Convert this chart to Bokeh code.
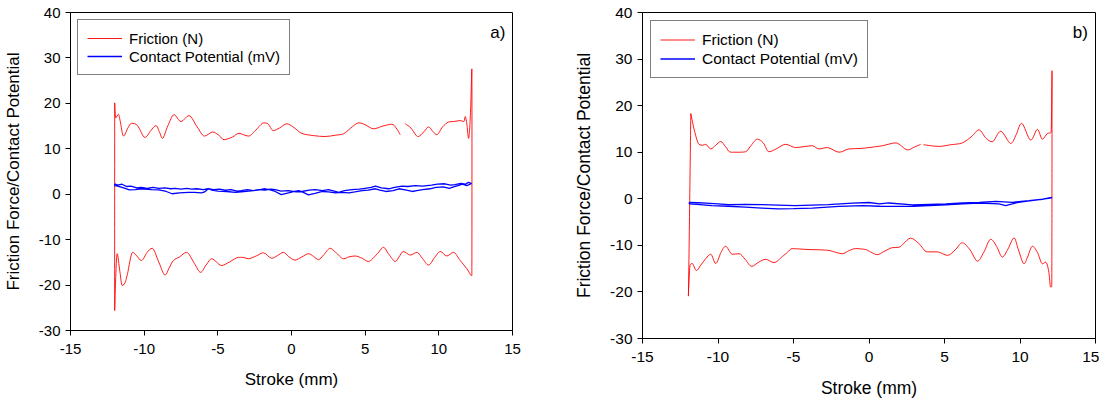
import numpy as np
from bokeh.plotting import figure
from bokeh.layouts import row
from bokeh.models import FixedTicker, Legend, LegendItem, Label, Range1d
from bokeh.embed import file_html
from bokeh.resources import INLINE

nan = float("nan")

# ---------------- axis ticks ----------------
x_ticks = [-15, -10, -5, 0, 5, 10, 15]
x_tick_labels = ["-15", "-10", "-5", "0", "5", "10", "15"]
y_ticks = [-30, -20, -10, 0, 10, 20, 30, 40]
y_tick_labels = ["-30", "-20", "-10", "0", "10", "20", "30", "40"]

# ---------------- panel a) ----------------
# friction, forward stroke (upper branch, left -> right)
a_fric_up_x = [-12.0, -11.93, -11.75, -11.62, -11.4, -11.1, -10.85, -10.45, -9.95, -9.55, -9.2, -8.95, -8.75, -8.4,
               -7.97, -7.5, -6.96, -6.4, -5.9, -5.35, -4.9, -4.58, -4.0, -3.56, -2.93, -2.4, -1.9, -1.6, -1.24, -0.8,
               -0.32, 0.2, 0.69, 1.5, 2.28, 3.0, 3.53, 4.0, 4.55, 5.0, 5.57, 6.2, 6.8, 7.1, 7.38, nan, 7.72, 8.1,
               8.45, 8.62, 9.0, 9.3, 9.6, 9.87, 10.25, 10.66, 11.0, 11.45, 11.7, 11.79, 11.9, 12.02, 12.15, 12.24]
a_fric_up_y = [20.1, 16.8, 17.6, 16.0, 12.8, 14.6, 15.6, 15.1, 12.5, 14.0, 15.1, 13.6, 12.3, 15.0,
               17.5, 16.0, 17.3, 14.8, 12.8, 13.7, 12.9, 12.0, 12.6, 13.4, 12.8, 14.2, 15.7, 15.5, 14.0, 14.6,
               15.5, 14.6, 13.4, 12.9, 12.7, 13.0, 13.3, 14.5, 15.7, 15.3, 14.4, 15.0, 15.4, 14.6, 13.1, nan, 15.5, 14.6,
               13.0, 12.7, 13.8, 14.8, 13.8, 13.1, 14.8, 15.9, 16.0, 16.2, 16.0, 17.1, 15.5, 12.3, 18.0, 27.6]
# friction, return stroke (lower branch, right -> left)
a_fric_lo_x = [12.24, 12.2, 12.07, 11.9, 11.45, 11.0, 10.54, 10.1, 9.7, 9.3, 8.9, 8.51, 8.06, 7.6, 7.3, 7.04, 6.6,
               6.24, 5.8, 5.22, 4.8, 4.32, 3.9, 3.53, 3.0, 2.62, 2.2, 1.83, 1.5, 1.15, 0.7, 0.24, -0.2, -0.55, -0.95,
               -1.35, -1.91, -2.4, -2.93, -3.3, -3.61, -4.2, -4.74, -5.1, -5.42, -5.8, -6.17, -6.6, -7.12, -7.6,
               -8.02, -8.3, -8.59, -9.0, -9.45, -9.8, -10.18, -10.5, -10.79, -11.13, -11.3, -11.49, -11.65, -11.83,
               -11.95, -12.0]
a_fric_lo_y = [-17.9, -17.9, -17.3, -16.4, -14.6, -12.8, -13.6, -12.6, -14.0, -15.6, -14.2, -12.8, -13.4, -12.6, -13.8,
               -14.8, -13.2, -11.7, -13.2, -14.8, -14.1, -13.6, -13.8, -14.2, -12.8, -11.9, -13.3, -14.4, -13.7, -13.1,
               -13.8, -14.5, -13.7, -12.8, -13.5, -14.1, -12.9, -13.6, -14.2, -13.9, -13.9, -14.9, -15.7, -14.9, -14.2,
               -15.6, -17.2, -15.2, -12.8, -13.8, -14.6, -16.2, -17.8, -15.0, -11.9, -12.8, -14.6, -13.6, -12.8, -17.5,
               -19.5, -20.1, -17.0, -13.1, -20.0, -25.6]
# contact potential, forward and return
a_cp_fw_x = [-12.0, -11.8, -11.5, -11.2, -10.9, -10.5, -10.2, -9.8, -9.4, -9.0, -8.6, -8.2, -7.9, -7.5, -7.1, -6.8,
             -6.4, -6.0, -5.65, -5.3, -4.9, -4.5, -4.1, -3.7, -3.4, -3.0, -2.6, -2.25, -1.8, -1.4, -1.1, -0.7, -0.2,
             0.3, 0.7, 1.2, 1.6, 2.1, 2.5, 2.9, 3.2, 3.6, 4.1, 4.6, 5.0, 5.4, 5.7, 6.1, 6.6, 7.0, 7.5, 7.9, 8.4, 8.9,
             9.5, 9.9, 10.4, 10.8, 11.1, 11.5, 11.8, 12.0, 12.2]
a_cp_fw_y = [2.3, 2.0, 2.2, 1.7, 1.8, 1.4, 1.5, 1.3, 1.5, 1.3, 1.4, 1.2, 1.3, 1.1, 1.3, 1.1,
             1.2, 1.0, 1.2, 1.0, 1.1, 0.9, 1.0, 0.7, 0.8, 1.0, 0.8, 1.0, 0.9, 1.1, 1.0, 0.7, 0.8,
             0.5, 0.6, 0.9, 1.0, 0.8, 1.0, 0.7, 0.4, 0.8, 1.0, 1.1, 1.3, 1.5, 1.8, 1.4, 1.2, 1.5, 1.8, 1.7, 1.9, 1.8,
             2.0, 2.2, 2.3, 2.0, 2.1, 2.4, 2.2, 2.6, 2.4]
a_cp_bw_x = [12.2, 11.9, 11.6, 11.3, 11.0, 10.7, 10.3, 9.8, 9.4, 8.9, 8.5, 8.2, 7.8, 7.3, 6.9, 6.4, 6.0, 5.7, 5.2,
             4.8, 4.3, 3.9, 3.4, 3.0, 2.5, 2.1, 1.6, 1.15, 0.8, 0.5, 0.2, -0.2, -0.7, -1.1, -1.5, -1.8, -2.3, -2.9,
             -3.4, -3.8, -4.4, -5.0, -5.4, -5.65, -5.9, -6.1, -6.6, -7.0, -7.6, -8.1, -8.5, -9.0, -9.5, -10.2, -10.6,
             -11.0, -11.5, -11.8, -12.0]
a_cp_bw_y = [2.3, 1.9, 2.2, 1.9, 1.6, 1.3, 1.6, 1.5, 1.2, 1.0, 0.8, 0.6, 0.9, 1.2, 0.8, 0.6, 0.9, 1.2, 0.9,
             0.8, 0.5, 0.3, 0.4, 0.3, 0.5, 0.6, 0.2, -0.15, 0.4, 0.8, 0.6, 0.3, -0.1, 0.6, 1.0, 1.2, 0.9, 0.7,
             0.5, 0.4, 0.6, 0.7, 0.9, 1.2, 0.5, 0.3, 0.4, 0.4, 0.3, 0.1, 0.6, 0.95, 1.0, 1.2, 1.0,
             0.95, 1.5, 1.8, 1.9]

# ---------------- panel b) ----------------
b_fric_up_x = [-11.8, -11.55, -11.26, -11.0, -10.81, -10.48, -10.15, -9.82, -9.5, -9.16, -8.6, -8.17, -7.8, -7.4,
               -7.0, -6.62, -6.1, -5.52, -4.86, -4.3, -3.76, -3.31, -2.76, -1.99, -1.33, -0.6, 0.0, 0.9, 1.77, 2.54,
               3.0, 3.42, nan, 3.6, 4.64, 5.4, 6.18, 6.8, 7.28, 7.75, 8.17, 8.72, 9.38, 9.75, 10.11, 10.71, 11.15,
               11.48, 11.81, 12.03, 12.08, 12.12]
b_fric_up_y = [18.3, 14.5, 11.7, 11.5, 11.7, 10.7, 11.5, 12.3, 11.2, 10.0, 10.0, 10.1, 11.5, 12.8,
               12.0, 10.1, 10.8, 11.7, 11.0, 11.2, 11.4, 10.7, 11.0, 10.0, 10.7, 10.8, 11.0, 11.4, 12.0, 10.5,
               11.1, 11.7, nan, 11.6, 11.25, 11.6, 12.0, 13.4, 14.8, 13.0, 12.25, 14.5, 11.9, 13.8, 16.2, 12.6, 14.9,
               12.8, 14.0, 14.2, 16.3, 27.5]
b_fric_lo_x = [12.1, 12.02, 11.9, 11.7, 11.48, 11.15, 10.82, 10.5, 10.26, 9.9, 9.6, 9.2, 8.83, 8.45, 8.06, 7.6, 7.18,
               6.7, 6.18, 5.7, 5.19, 4.52, 3.86, 3.3, 2.76, 2.3, 1.99, 1.54, 1.0, 0.55, 0.1, -0.22, -0.88, -1.3, -1.77,
               -2.2, -2.65, -3.3, -3.97, -4.5, -5.08, -5.4, -5.74, -6.29, -6.84, -7.3, -7.77, -8.2, -8.6, -9.05, -9.49,
               -9.8, -10.15, -10.48, -10.8, -11.15, -11.43, -11.7, -11.85, -11.96]
b_fric_lo_y = [-18.9, -18.9, -15.5, -13.6, -13.95, -11.5, -10.2, -12.5, -13.95, -11.0, -8.4, -10.8, -12.5, -10.2, -8.7,
               -11.5, -13.4, -11.0, -9.45, -11.0, -12.15, -11.4, -11.4, -9.6, -8.45, -9.6, -10.4, -10.5, -11.3, -12.0,
               -11.4, -10.9, -10.7, -11.1, -11.8, -11.5, -11.1, -10.95, -10.9, -10.8, -10.7, -11.5, -12.4, -13.7, -13.0,
               -13.6, -14.5, -13.0, -11.8, -11.9, -10.2, -11.5, -13.9, -11.9, -12.8, -14.3, -15.4, -13.9, -14.3, -20.9]
b_cp_fw_x = [-11.9, -11.3, -10.8, -10.0, -9.3, -8.2, -7.1, -6.0, -4.9, -3.8, -2.7, -1.1, 0.0, 0.7, 1.3, 2.9, 4.0,
             5.1, 6.2, 7.3, 8.4, 9.5, 10.6, 11.5, 12.1]
b_cp_fw_y = [-0.75, -0.85, -0.95, -1.1, -1.25, -1.2, -1.25, -1.35, -1.45, -1.35, -1.25, -0.95, -0.8, -1.1, -0.9, -1.3,
             -1.2, -1.1, -0.9, -0.75, -0.55, -0.75, -0.4, -0.1, 0.3]
b_cp_bw_x = [12.1, 11.3, 10.5, 9.9, 9.05, 8.6, 7.3, 6.2, 5.1, 4.0, 2.9, 1.3, 0.7, -0.4, -2.0, -3.75, -5.0, -6.0, -7.1,
             -8.2, -9.3, -10.4, -11.4, -11.9]
b_cp_bw_y = [0.2, -0.2, -0.5, -0.75, -1.45, -1.1, -0.9, -1.1, -1.3, -1.45, -1.6, -1.65, -1.6, -1.45, -1.65, -2.0, -2.1,
             -2.15, -2.0, -1.8, -1.6, -1.45, -1.2, -1.1]

series_labels = ["Friction (N)", "Contact Potential (mV)"]
FONT = "Liberation Sans"
RED = "#ff0000"
BLUE = "#0000ff"


def loop(ux, uy, lx, ly):
    x = np.array(ux + lx + [ux[0]], dtype=float)
    y = np.array(uy + ly + [uy[0]], dtype=float)
    return x, y


def smooth_segments(x, y):
    """Cubic Bezier segments through the read points (horizontal tangents at local extremes)."""
    n = len(x)
    tx = np.zeros(n)
    ty = np.zeros(n)
    for i in range(n):
        if np.isnan(x[i]):
            continue
        ip = i - 1 if i > 0 and not np.isnan(x[i - 1]) else i
        inx = i + 1 if i < n - 1 and not np.isnan(x[i + 1]) else i
        tx[i] = (x[inx] - x[ip]) / 2.0
        ty[i] = (y[inx] - y[ip]) / 2.0
        if ip != i and inx != i:
            if (y[i] - y[ip]) * (y[inx] - y[i]) <= 0:
                ty[i] = 0.0
            else:
                lim = 3.0 * min(abs(y[i] - y[ip]), abs(y[inx] - y[i]))
                ty[i] = np.sign(ty[i]) * min(abs(ty[i]), lim)
    segs = {k: [] for k in ("x0", "y0", "x1", "y1", "cx0", "cy0", "cx1", "cy1")}
    for i in range(n - 1):
        if np.isnan(x[i]) or np.isnan(x[i + 1]):
            continue
        segs["x0"].append(x[i]); segs["y0"].append(y[i])
        segs["x1"].append(x[i + 1]); segs["y1"].append(y[i + 1])
        segs["cx0"].append(x[i] + tx[i] / 3.0); segs["cy0"].append(y[i] + ty[i] / 3.0)
        segs["cx1"].append(x[i + 1] - tx[i + 1] / 3.0); segs["cy1"].append(y[i + 1] - ty[i + 1] / 3.0)
    return segs


def make_panel(fric, cp, tag, fw, fh, bl, br, bt, bb, fs_tick, fs_lab, fs_leg, legend_pad, legend_lh, legend_margin):
    p = figure(frame_width=fw, frame_height=fh, x_range=Range1d(-15, 15), y_range=Range1d(-30, 40),
               output_backend="svg", toolbar_location=None,
               min_border_left=bl, min_border_right=br, min_border_top=bt, min_border_bottom=bb)
    p.grid.visible = False
    p.outline_line_color = "black"
    p.outline_line_width = 1
    p.background_fill_color = "white"
    p.border_fill_color = "white"

    for ax, ticks, labels in ((p.xaxis[0], x_ticks, x_tick_labels), (p.yaxis[0], y_ticks, y_tick_labels)):
        ax.ticker = FixedTicker(ticks=ticks)
        ax.major_label_overrides = {t: s for t, s in zip(ticks, labels)}
        ax.minor_tick_line_color = None
        ax.major_tick_out = 5
        ax.major_tick_in = 0
        ax.axis_line_color = "black"
        ax.major_tick_line_color = "black"
        ax.major_label_text_font = FONT
        ax.major_label_text_font_size = fs_tick
        ax.major_label_text_color = "black"
        ax.axis_label_text_font = FONT
        ax.axis_label_text_font_size = fs_lab
        ax.axis_label_text_font_style = "normal"
        ax.axis_label_text_color = "black"
    p.xaxis.axis_label = "Stroke (mm)"
    p.yaxis.axis_label = "Friction Force/Contact Potential"
    p.xaxis.major_label_standoff = 8
    p.yaxis.major_label_standoff = 5
    p.xaxis.axis_label_standoff = 13
    p.yaxis.axis_label_standoff = 13

    fx, fy = loop(*fric)
    cx, cy = loop(*cp)
    r1 = p.bezier(line_color=RED, line_width=0.9, **smooth_segments(fx, fy))
    r2 = p.line(cx, cy, line_color=BLUE, line_width=1.3)

    legend = Legend(items=[LegendItem(label=series_labels[0], renderers=[r1]),
                           LegendItem(label=series_labels[1], renderers=[r2])],
                    location="top_left", margin=legend_margin, padding=legend_pad, spacing=0,
                    label_height=legend_lh, glyph_height=legend_lh, glyph_width=35, label_standoff=7,
                    label_text_font=FONT, label_text_font_size=fs_leg, label_text_color="black",
                    border_line_color="black", border_line_width=1, background_fill_alpha=1.0)
    p.add_layout(legend)

    p.add_layout(Label(x=14.0, y=35.7, text=tag, text_align="center", text_baseline="middle",
                       text_font=FONT, text_font_size="17px", text_color="black"))
    return p


p1 = make_panel((a_fric_up_x, a_fric_up_y, a_fric_lo_x, a_fric_lo_y),
                (a_cp_fw_x, a_cp_fw_y, a_cp_bw_x, a_cp_bw_y), "a)",
                442, 318, 64, 32, 12, 56, "15px", "17px", "15px", 9, 18, 7)
p2 = make_panel((b_fric_up_x, b_fric_up_y, b_fric_lo_x, b_fric_lo_y),
                (b_cp_fw_x, b_cp_fw_y, b_cp_bw_x, b_cp_bw_y), "b)",
                453, 326, 98, 4, 12, 56, "15.5px", "17.5px", "15.5px", 9, 19, 8)

layout = row(p1, p2)
open("out.html", "w").write(file_html(layout, INLINE))
